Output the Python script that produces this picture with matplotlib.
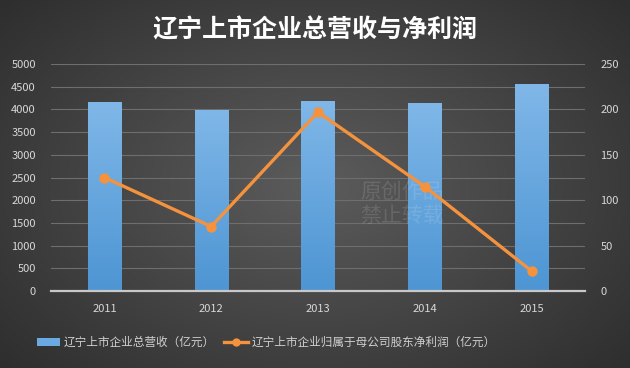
import numpy as np
import matplotlib
matplotlib.use('Agg')
import matplotlib.pyplot as plt
from matplotlib.patches import Patch
from matplotlib.lines import Line2D
from matplotlib.colors import LinearSegmentedColormap

plt.rcParams['font.family'] = ['Noto Sans CJK SC', 'DejaVu Sans']

#-- data
years = ['2011', '2012', '2013', '2014', '2015']
revenue = [4156, 3987, 4192, 4150, 4560]
profit = [125, 71, 197, 115, 22]

title = '辽宁上市企业总营收与净利润'
label_rev = '辽宁上市企业总营收（亿元）'
label_pro = '辽宁上市企业归属于母公司股东净利润（亿元）'

fig = plt.figure(figsize=(6.3, 3.68), dpi=100)

#-- radial dark background
bg = fig.add_axes([0, 0, 1, 1])
yy, xx = np.mgrid[0:368, 0:630]
r = np.sqrt(((xx - 315) / 400.0) ** 2 + ((yy - 184) / 260.0) ** 2)
shade = np.clip(0.36 - 0.17 * r, 0.17, 0.36)
bg.imshow(np.dstack([shade] * 3), aspect='auto', extent=[0, 1, 0, 1])
bg.set_xlim(0, 1)
bg.set_ylim(0, 1)
bg.axis('off')

ax = fig.add_axes([51 / 630, 1 - 291 / 368, 534 / 630, 227 / 368])
ax.patch.set_alpha(0)
x = np.arange(len(years))

#-- bars with vertical gradient
bars = ax.bar(x, revenue, width=0.31, color='none', zorder=2)
grad = np.linspace(0, 1, 256).reshape(-1, 1)
cmap = LinearSegmentedColormap.from_list('b', ['#4d95d3', '#80b7e8'])
for b in bars:
    x0, y0 = b.get_x(), b.get_y()
    im = ax.imshow(grad, cmap=cmap, aspect='auto', origin='lower',
                   extent=[x0, x0 + b.get_width(), y0, y0 + b.get_height()], zorder=2)
    im.set_clip_path(b)

ax.set_xlim(-0.5, 4.5)
ax.set_ylim(0, 5000)
ax.set_yticks(np.arange(0, 5001, 500))
ax.set_xticks(x)
ax.set_xticklabels(years)
ax.grid(axis='y', color='#6e6e6e', linewidth=0.8, zorder=0)
ax.set_axisbelow(True)
for s in ['top', 'left', 'right']:
    ax.spines[s].set_visible(False)
ax.spines['bottom'].set_color('#c8c8c8')
ax.spines['bottom'].set_linewidth(1.6)
ax.tick_params(axis='both', length=0, colors='#d8d8d8', labelsize=8)
ax.tick_params(axis='x', pad=9)
ax.tick_params(axis='y', pad=11)

#-- watermark (between bars and line)
ax.text(0.572, 0.445, '原创作品\n禁止转载', color='white', alpha=0.12,
        fontsize=15, ha='left', va='center', linespacing=1.1, zorder=3,
        transform=fig.transFigure)

ax2 = ax.twinx()
ax2.set_ylim(0, 250)
ax2.set_yticks(np.arange(0, 251, 50))
ax2.plot(x, profit, color='#f5923e', linewidth=2.4, marker='o', markersize=6.5, zorder=5)
for s in ['top', 'left', 'right', 'bottom']:
    ax2.spines[s].set_visible(False)
ax2.tick_params(axis='y', length=0, colors='#d8d8d8', labelsize=8, pad=11)

fig.text(0.5, 0.918, title, color='white', fontsize=18, fontweight='bold',
         ha='center', va='center')

handles = [Patch(facecolor='#6aa9e2', edgecolor='none'),
           Line2D([0], [0], color='#f5923e', linewidth=2.4, marker='o', markersize=5)]
leg = fig.legend(handles, [label_rev, label_pro], loc='center left',
                 bbox_to_anchor=(26 / 630, 0.07), ncol=2, frameon=False,
                 fontsize=8.4, labelcolor='#d0d0d0', handlelength=2.0,
                 handletextpad=0.35, columnspacing=0.8)

fig.savefig('out.png', dpi=100)
